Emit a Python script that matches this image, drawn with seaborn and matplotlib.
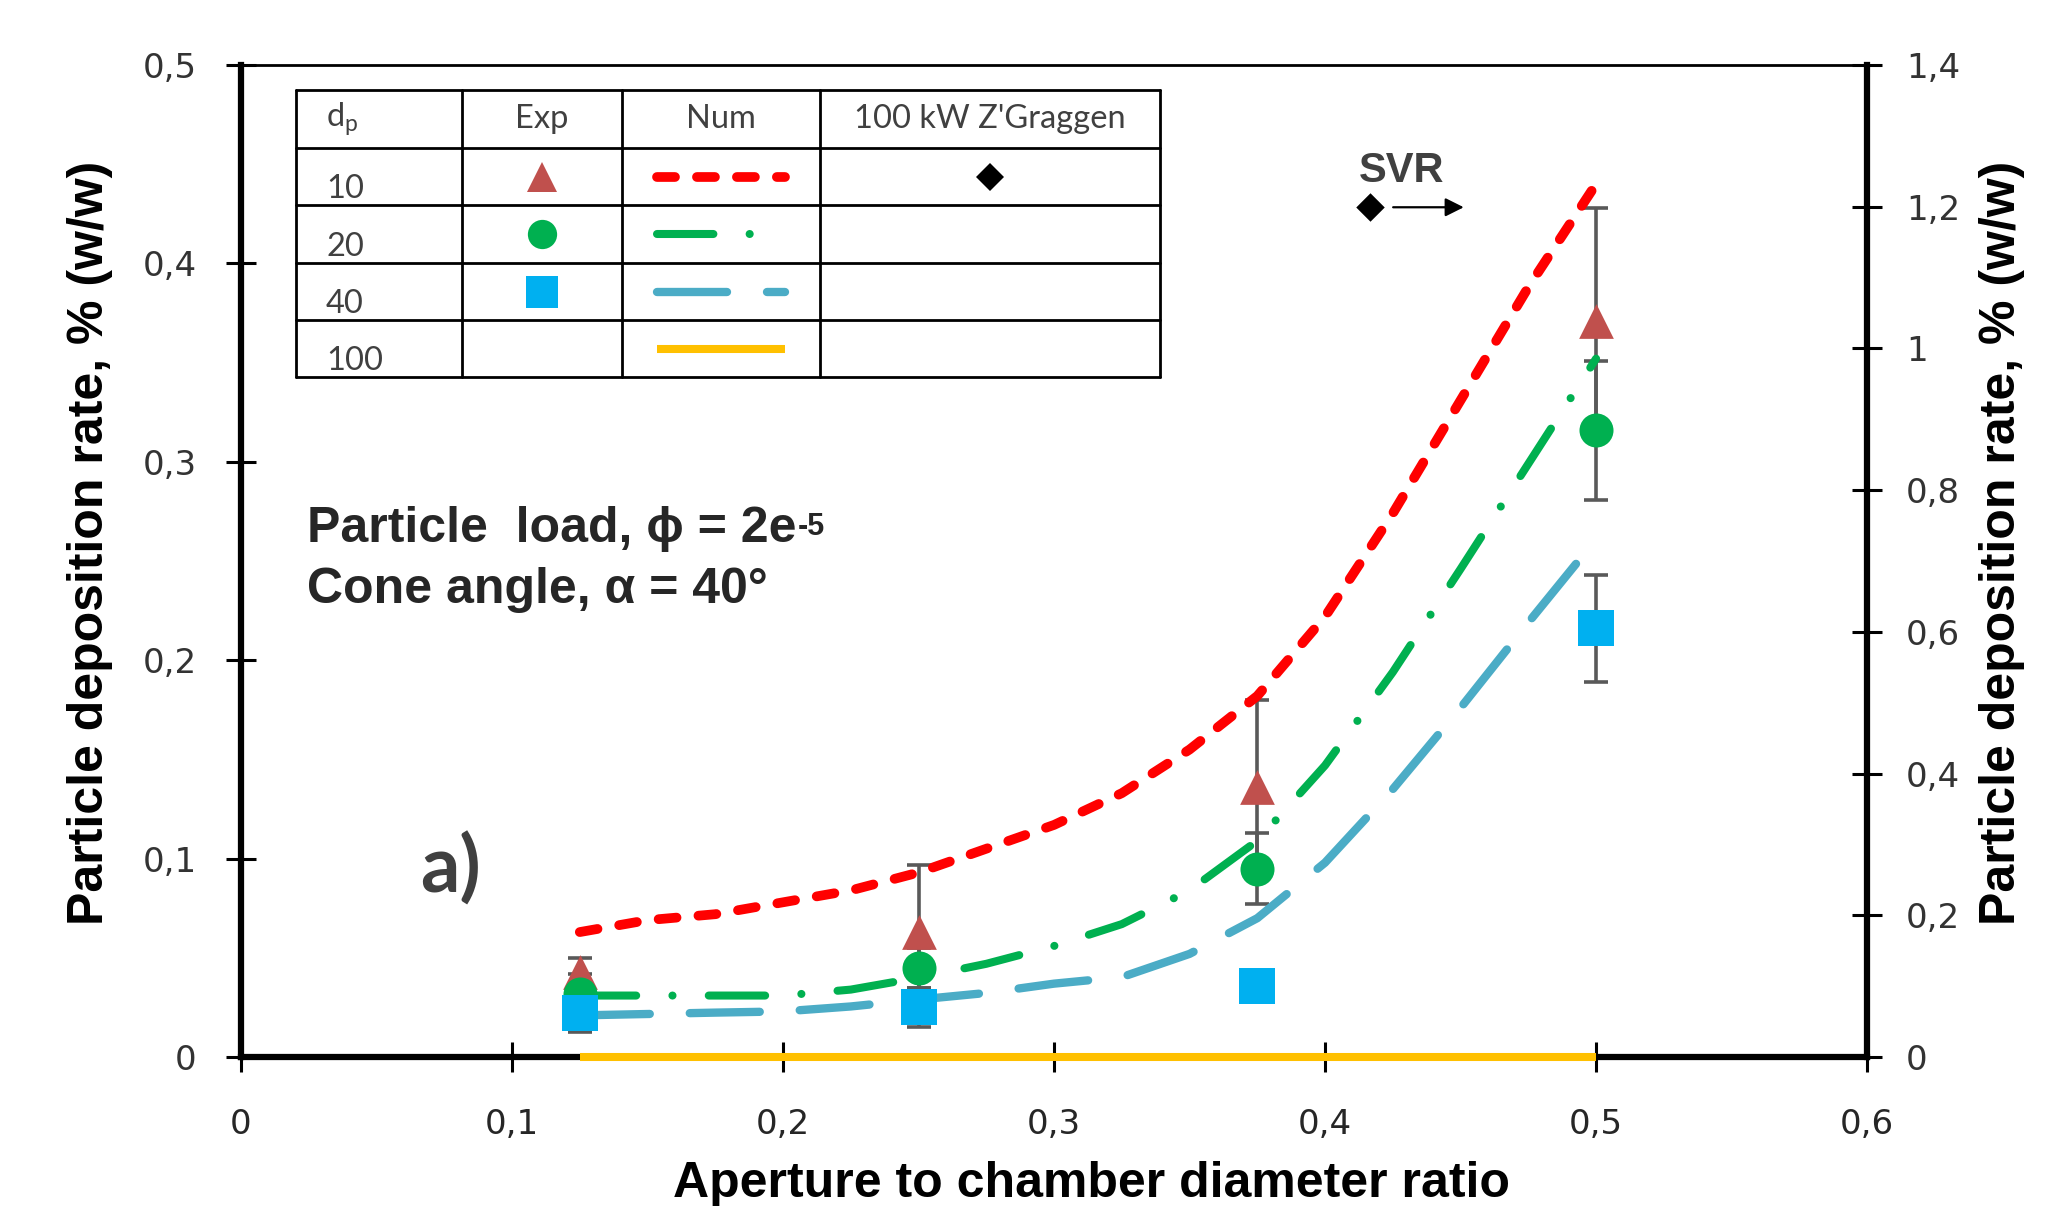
import matplotlib
matplotlib.use("Agg")
import matplotlib.pyplot as plt
import seaborn as sns

sns.set_theme(style="white")
plt.rcParams["font.family"] = ["Liberation Sans", "DejaVu Sans"]

# experiments (aperture/chamber diameter ratio)
exp_x = [0.125, 0.25, 0.375, 0.5]
exp_10 = [0.043, 0.063, 0.136, 0.371]
exp_10_err = [0.007, 0.034, 0.044, 0.057]
exp_20 = [0.032, 0.045, 0.095, 0.316]
exp_20_err = [0.010, 0.010, 0.018, 0.035]
exp_40 = [0.022, 0.025, 0.036, 0.216]
exp_40_err = [0.0095, 0.010, 0.0, 0.027]

# numerical curves
num_x = [0.125, 0.15, 0.175, 0.2, 0.225, 0.25, 0.275, 0.3,
         0.325, 0.35, 0.375, 0.4, 0.425, 0.45, 0.475, 0.5]
num_10 = [0.063, 0.069, 0.072, 0.078, 0.084, 0.093, 0.105, 0.117,
          0.133, 0.155, 0.182, 0.222, 0.274, 0.331, 0.388, 0.440]
num_20 = [0.031, 0.031, 0.031, 0.031, 0.034, 0.040, 0.047, 0.056,
          0.067, 0.084, 0.109, 0.147, 0.194, 0.246, 0.299, 0.352]
num_40 = [0.021, 0.0217, 0.0224, 0.023, 0.0255, 0.029, 0.0323, 0.037,
          0.0403, 0.052, 0.070, 0.098, 0.135, 0.176, 0.219, 0.261]
num_100 = [0.0, 0.0, 0.0, 0.0]  # on exp_x

# 100 kW Z'Graggen
zg_x = [0.4167]
zg_y = [0.4283]

x_ticks = [0, 0.1, 0.2, 0.3, 0.4, 0.5, 0.6]
x_labels = ["0", "0,1", "0,2", "0,3", "0,4", "0,5", "0,6"]
y_ticks = [0, 0.1, 0.2, 0.3, 0.4, 0.5]
y_labels = ["0", "0,1", "0,2", "0,3", "0,4", "0,5"]
y2_ticks = [0, 0.2, 0.4, 0.6, 0.8, 1.0, 1.2, 1.4]
y2_labels = ["0", "0,2", "0,4", "0,6", "0,8", "1", "1,2", "1,4"]

table_header = ["d$_{\\mathregular{p}}$", "Exp", "Num", "100 kW Z'Graggen"]
table_rows = ["10", "20", "40", "100"]

RED = "#FF0000"
GREEN = "#00B050"
BLUE = "#4BACC6"
ORANGE = "#FFC000"
TRI = "#C0504D"
DOT = "#00B050"
SQ = "#00B0F0"
ERR = "#595959"

line_styles = {
    "10": dict(color=RED, linewidth=7.0, linestyle=(0, (1.85, 2.26)), dash_capstyle="round"),
    "20": dict(color=GREEN, linewidth=5.8, linestyle=(0, (7.0, 4.5, 0.01, 4.5)), dash_capstyle="round"),
    "40": dict(color=BLUE, linewidth=6.0, linestyle=(0, (8.4, 4.8)), dash_capstyle="round"),
    "100": dict(color=ORANGE, linewidth=5.8, linestyle="-", solid_capstyle="butt"),
}
marker_styles = {
    "10": dict(marker="^", color=TRI, size=25),
    "20": dict(marker="o", color=DOT, size=24.5),
    "40": dict(marker="s", color=SQ, size=26),
}

fig = plt.figure(figsize=(20.69, 12.06), dpi=100)
ax = fig.add_axes([0.1165, 0.1235, 0.7859, 0.8226])
ax2 = ax.twinx()

# numerical lines
for key, ys in [("10", num_10), ("20", num_20), ("40", num_40)]:
    sns.lineplot(x=num_x, y=ys, ax=ax, estimator=None, sort=False,
                 zorder=4, **line_styles[key])
sns.lineplot(x=exp_x, y=num_100, ax=ax, estimator=None, sort=False,
             zorder=5, clip_on=False, **line_styles["100"])

# experimental points with error bars
for key, ys, err in [("10", exp_10, exp_10_err), ("20", exp_20, exp_20_err),
                     ("40", exp_40, exp_40_err)]:
    ax.errorbar(exp_x, ys, yerr=err, fmt="none", ecolor=ERR, elinewidth=2.6,
                capsize=8.5, capthick=2.6, zorder=3)
for key, ys in [("10", exp_10), ("20", exp_20), ("40", exp_40)]:
    st = marker_styles[key]
    sns.scatterplot(x=exp_x, y=ys, ax=ax, marker=st["marker"], s=st["size"] ** 2,
                    color=st["color"], linewidth=0, zorder=6, legend=False)

sns.scatterplot(x=zg_x, y=zg_y, ax=ax, marker="D", s=14.5 ** 2, color="black",
                linewidth=0, zorder=6, legend=False)
ax.annotate("", xy=(zg_x[0] + 0.0355, zg_y[0]), xytext=(zg_x[0] + 0.0074, zg_y[0]),
            arrowprops=dict(arrowstyle="-|>", color="black", lw=1.6, mutation_scale=28))
ax.text(0.4125, 0.441, "SVR", fontsize=30, fontweight="bold", color="#404040",
        va="baseline", ha="left")

# axes
ax.set_xlim(0, 0.6)
ax.set_ylim(0, 0.5)
ax2.set_ylim(0, 1.4)
ax.set_xticks(x_ticks)
ax.set_xticklabels(x_labels, fontfamily="DejaVu Sans", fontsize=24.5, color="#262626")
ax.set_yticks(y_ticks)
ax.set_yticklabels(y_labels, fontfamily="DejaVu Sans", fontsize=24.5, color="#333333")
ax2.set_yticks(y2_ticks)
ax2.set_yticklabels(y2_labels, fontfamily="DejaVu Sans", fontsize=24.5, color="#333333")

ax.tick_params(axis="x", bottom=True, top=False, direction="inout", length=22,
               width=2.2, pad=26, color="black")
ax.tick_params(axis="y", left=True, right=False, direction="inout", length=22,
               width=2.2, pad=21, color="black")
ax2.tick_params(axis="y", right=True, left=False, direction="inout", length=22,
                width=2.2, pad=17, color="black")

for side in ["left", "bottom", "right"]:
    ax.spines[side].set_linewidth(4.5)
    ax.spines[side].set_color("black")
ax.spines["top"].set_linewidth(2.0)
ax.spines["top"].set_color("black")
for side in ax2.spines:
    ax2.spines[side].set_visible(False)

label_kw = dict(fontsize=36, fontweight="bold", color="black")
ax.set_xlabel("Aperture to chamber diameter ratio", **label_kw)
ax.xaxis.set_label_coords(0.5228, -0.1048)
ax.set_ylabel("Particle deposition rate, % (w/w)", **label_kw)
ax.yaxis.set_label_coords(-0.0787, 0.518)
ax2.set_ylabel("Particle deposition rate, % (w/w)", **label_kw)
ax2.yaxis.set_label_coords(1.069, 0.518)

# text annotations
t1 = ax.text(0.0406, 0.519, "Particle  load, \u03d5 = 2e", transform=ax.transAxes,
             fontsize=36, fontweight="bold", va="baseline", ha="left")
ax.annotate("-5", xy=(1.0, 1.0), xycoords=t1, xytext=(1, -4), textcoords="offset points",
            fontsize=22, fontweight="bold", va="top", ha="left")
ax.text(0.0406, 0.4577, "Cone angle, \u03b1 = 40\u00b0", transform=ax.transAxes,
        fontsize=36, fontweight="bold", va="baseline", ha="left")
ax.text(0.110, 0.1663, "a)", transform=ax.transAxes, fontsize=56, fontweight="bold",
        family=["Lato", "DejaVu Sans"], color="#404040", va="baseline", ha="left")

# legend table
col_x = [0.0338, 0.1359, 0.2343, 0.3561, 0.5652]
row_y = [0.9748, 0.9163, 0.8589, 0.8004, 0.7429, 0.6855]
grid_kw = dict(color="black", linewidth=2.0, transform=ax.transAxes, clip_on=False, zorder=7)
for yy in row_y:
    ax.plot([col_x[0], col_x[-1]], [yy, yy], **grid_kw)
for xx in col_x:
    ax.plot([xx, xx], [row_y[0], row_y[-1]], **grid_kw)

tab_font = dict(fontsize=23.5, family=["Lato", "DejaVu Sans"], color="#404040",
                transform=ax.transAxes, zorder=8)
head_y = (row_y[0] + row_y[1]) / 2
ax.text(0.0523, head_y, table_header[0], ha="left", va="center", **tab_font)
for i, txt in enumerate(table_header[1:], start=1):
    ax.text((col_x[i] + col_x[i + 1]) / 2, head_y, txt, ha="center", va="center", **tab_font)

exp_cx = (col_x[1] + col_x[2]) / 2
num_cx = (col_x[2] + col_x[3]) / 2
zg_cx = (col_x[3] + col_x[4]) / 2
half_len = 0.0395
for r, key in enumerate(table_rows):
    top, bot = row_y[r + 1], row_y[r + 2]
    cy = (top + bot) / 2
    ax.text(0.0523, bot + 0.007, key, ha="left", va="baseline", **tab_font)
    ax.plot([num_cx - half_len, num_cx + half_len], [cy, cy], transform=ax.transAxes,
            clip_on=False, zorder=8, **line_styles[key])
    if key in marker_styles:
        st = marker_styles[key]
        ax.plot([exp_cx], [cy], linestyle="none", marker=st["marker"],
                markersize=st["size"] * 0.86, color=st["color"], markeredgewidth=0,
                transform=ax.transAxes, clip_on=False, zorder=8)
ax.plot([zg_cx], [(row_y[1] + row_y[2]) / 2], linestyle="none", marker="D",
        markersize=14.5, color="black", markeredgewidth=0,
        transform=ax.transAxes, clip_on=False, zorder=8)

fig.savefig("out.png", dpi=100)
